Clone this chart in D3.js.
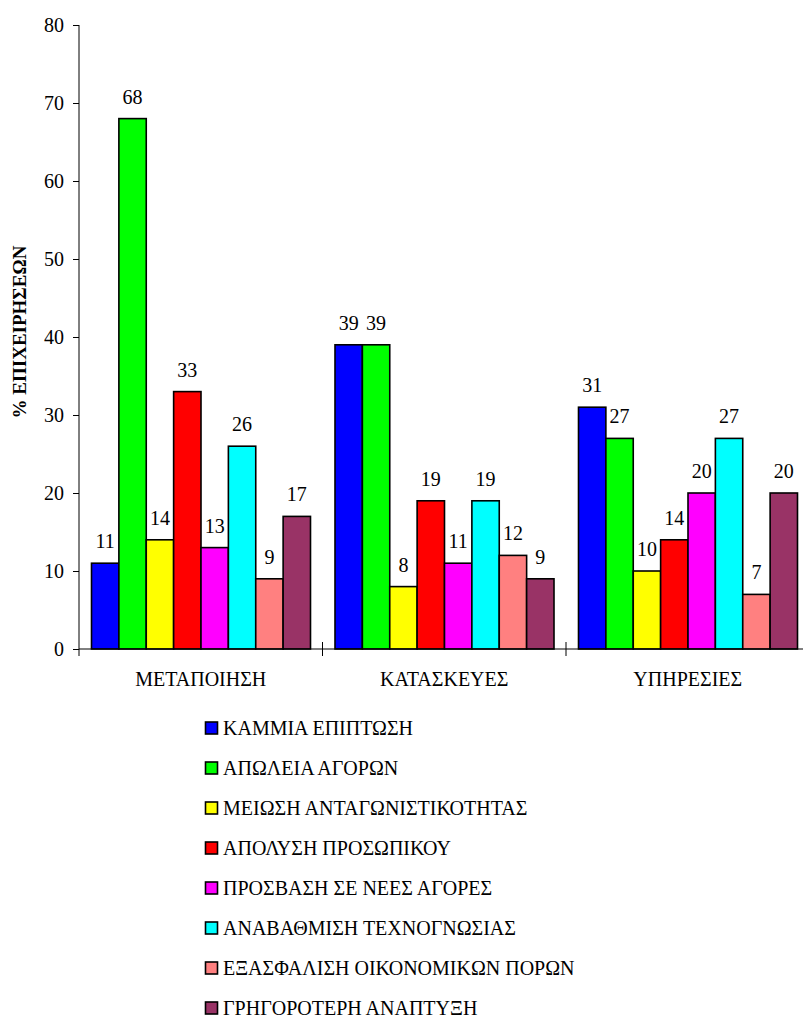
<!DOCTYPE html>
<html><head><meta charset="utf-8">
<script src="https://cdn.jsdelivr.net/npm/d3@7"></script>
<style>
html,body{margin:0;padding:0;background:#fff;}
svg{display:block;}
</style></head>
<body>
<script>
const categories = ["ΜΕΤΑΠΟΙΗΣΗ", "ΚΑΤΑΣΚΕΥΕΣ", "ΥΠΗΡΕΣΙΕΣ"];
const seriesNames = ["ΚΑΜΜΙΑ ΕΠΙΠΤΩΣΗ", "ΑΠΩΛΕΙΑ ΑΓΟΡΩΝ", "ΜΕΙΩΣΗ ΑΝΤΑΓΩΝΙΣΤΙΚΟΤΗΤΑΣ", "ΑΠΟΛΥΣΗ ΠΡΟΣΩΠΙΚΟΥ", "ΠΡΟΣΒΑΣΗ ΣΕ ΝΕΕΣ ΑΓΟΡΕΣ", "ΑΝΑΒΑΘΜΙΣΗ ΤΕΧΝΟΓΝΩΣΙΑΣ", "ΕΞΑΣΦΑΛΙΣΗ ΟΙΚΟΝΟΜΙΚΩΝ ΠΟΡΩΝ", "ΓΡΗΓΟΡΟΤΕΡΗ ΑΝΑΠΤΥΞΗ"];
const seriesColors = ["#0000FF", "#00FF00", "#FFFF00", "#FF0000", "#FF00FF", "#00FFFF", "#FF8080", "#993366"];
// values per series, one entry per category
const kammia    = [11, 39, 31];
const apoleia   = [68, 39, 27];
const meiosi    = [14, 8, 10];
const apolysi   = [33, 19, 14];
const prosvasi  = [13, 11, 20];
const anavathmisi = [26, 19, 27];
const exasfalisi = [9, 12, 7];
const grigoroteri = [17, 9, 20];
const yTicks = [0, 10, 20, 30, 40, 50, 60, 70, 80];
const yTitle = "% ΕΠΙΧΕΙΡΗΣΕΩΝ";

const seriesValues = [kammia, apoleia, meiosi, apolysi, prosvasi, anavathmisi, exasfalisi, grigoroteri];

const W = 803, H = 1017;
const FONT = "Liberation Serif";
const svg = d3.select("body").append("svg").attr("width", W).attr("height", H);

const mLeft = 79, mTop = 25, mBottom = 649, catW = 243.5;
const y = d3.scaleLinear().domain([0, 80]).range([mBottom, mTop]);
const x0 = d3.scaleBand().domain(categories).range([mLeft, mLeft + catW * categories.length]).padding(0);
const x1 = d3.scaleBand().domain(seriesNames).range([12.5, catW - 12]).padding(0);

const FS = 20;
function txt(sel, size) {
  return sel.attr("font-family", FONT).attr("font-size", size)
    .style("font-family", FONT).style("font-size", size + "px").attr("fill", "#000");
}

// Bars
categories.forEach((c, ci) => {
  const g = svg.append("g").attr("transform", `translate(${x0(c)},0)`);
  seriesNames.forEach((s, si) => {
    const v = seriesValues[si][ci];
    g.append("rect")
      .attr("x", x1(s)).attr("y", y(v))
      .attr("width", x1.bandwidth()).attr("height", y(0) - y(v))
      .attr("fill", seriesColors[si]).attr("stroke", "#000").attr("stroke-width", 1.6);
  });
  seriesNames.forEach((s, si) => {
    const v = seriesValues[si][ci];
    txt(g.append("text")
      .attr("x", x1(s) + x1.bandwidth() / 2).attr("y", y(v) - 15)
      .attr("text-anchor", "middle"), FS)
      .text(v);
  });
});

// Y axis
const yAxis = d3.axisLeft(y).tickValues(yTicks).tickSize(6).tickPadding(9).tickSizeOuter(0);
const gy = svg.append("g").attr("transform", `translate(${mLeft},0)`).call(yAxis);
gy.attr("font-family", FONT).attr("font-size", FS);
gy.select(".domain").remove();
gy.selectAll("line").attr("stroke", "#000").attr("stroke-width", 1);
txt(gy.selectAll("text"), FS);
svg.append("line").attr("x1", mLeft).attr("x2", mLeft).attr("y1", mTop).attr("y2", mBottom + 7).attr("stroke", "#000").attr("stroke-width", 1);

// X axis
svg.append("line").attr("x1", mLeft).attr("x2", W).attr("y1", mBottom).attr("y2", mBottom).attr("stroke", "#000").attr("stroke-width", 1);
const boundaries = categories.map(c => x0(c) + catW);
svg.selectAll(".xtick").data(boundaries).enter().append("line")
  .attr("x1", d => d).attr("x2", d => d).attr("y1", mBottom - 7).attr("y2", mBottom + 7)
  .attr("stroke", "#000").attr("stroke-width", 1);
txt(svg.selectAll(".xlab").data(categories).enter().append("text")
  .attr("x", d => x0(d) + catW / 2).attr("y", 686)
  .attr("text-anchor", "middle"), FS)
  .text(d => d);

// Y title
txt(svg.append("text")
  .attr("transform", `translate(26,332) rotate(-90)`)
  .attr("text-anchor", "middle"), 19).attr("font-weight", "bold").style("font-weight", "bold")
  .text(yTitle);

// Legend
const lg = svg.append("g");
seriesNames.forEach((s, i) => {
  const cy = 728 + i * 40;
  lg.append("rect").attr("x", 205.5).attr("y", cy - 6).attr("width", 12).attr("height", 12)
    .attr("fill", seriesColors[i]).attr("stroke", "#000").attr("stroke-width", 1.6);
  txt(lg.append("text").attr("x", 223).attr("y", cy + 7), FS).text(s);
});
</script>
</body></html>
